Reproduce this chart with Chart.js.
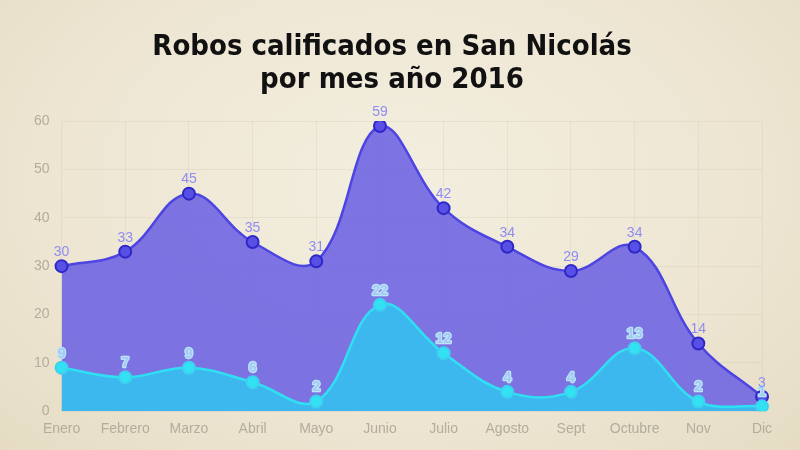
<!DOCTYPE html>
<html><head><meta charset="utf-8">
<script src="https://cdn.jsdelivr.net/npm/chart.js@4.4.0/dist/chart.umd.min.js"></script>
<style>
html,body{margin:0;padding:0;}
body{width:800px;height:450px;background:radial-gradient(ellipse at 50% 40%, #f3eedf 0%, #eee6d3 60%, #e6dcc4 100%);}
#wrap{width:800px;height:450px;position:relative;}
</style></head>
<body><div id="wrap"><canvas id="c" width="800" height="450"></canvas></div>
<script>
const categories = ["Enero","Febrero","Marzo","Abril","Mayo","Junio","Julio","Agosto","Sept","Octubre","Nov","Dic"];
const seriesTotal = [30,33,45,35,31,59,42,34,29,34,14,3];
const seriesSub = [9,7,9,6,2,22,12,4,4,13,2,1];
const yTicks = [0,10,20,30,40,50,60];
const titleLines = ["Robos calificados en San Nicolás","por mes año 2016"];

const labelPlugin = {
  id:'vlabels',
  afterDatasetsDraw(chart){
    const ctx = chart.ctx;
    chart.data.datasets.forEach((ds,i)=>{
      const meta = chart.getDatasetMeta(i);
      ctx.save();
      ctx.font = ds.labelFont;
      ctx.textAlign='center'; ctx.textBaseline='bottom';
      ctx.lineJoin='round';
      meta.data.forEach((pt,j)=>{
        const t = String(ds.data[j]);
        if(ds.labelStroke){
          ctx.lineWidth=2.5; ctx.strokeStyle=ds.labelStroke; ctx.strokeText(t,pt.x,pt.y-7);
        }
        ctx.fillStyle=ds.labelColor;
        ctx.fillText(t,pt.x,pt.y-7);
      });
      ctx.restore();
    });
  }
};

new Chart(document.getElementById('c'),{
  type:'line',
  data:{labels:categories,datasets:[
    {data:seriesSub,fill:'origin',tension:0.4,backgroundColor:'rgba(56,190,240,0.92)',borderColor:'#2fe0f2',borderWidth:2.5,
     pointRadius:6,pointBackgroundColor:'#32e2f2',pointBorderColor:'#3fd0f0',pointBorderWidth:2,labelColor:'#a8c8f4',labelStroke:'#b8e6f6',
     labelFont:'bold 14px "Liberation Sans", Arial, sans-serif',order:1},
    {data:seriesTotal,fill:'origin',tension:0.4,backgroundColor:'rgba(108,98,226,0.88)',borderColor:'#4d45e2',borderWidth:2.5,
     pointRadius:6,pointBackgroundColor:'#5850e4',pointBorderColor:'#2f28c8',pointBorderWidth:2,labelColor:'#8f8cf0',
     labelFont:'14px "Liberation Sans", Arial, sans-serif',order:2}
  ]},
  options:{
    responsive:false,animation:false,
    layout:{padding:{left:22,right:38,top:0,bottom:2}},
    plugins:{
      legend:{display:false},tooltip:{enabled:false},
      title:{display:true,text:titleLines,color:'#111',font:{family:'"DejaVu Sans Condensed","DejaVu Sans",sans-serif',size:29,weight:'bold',lineHeight:1.14},padding:{top:31,bottom:24}}
    },
    scales:{
      x:{offset:false,grid:{color:'rgba(200,190,170,0.25)',drawTicks:false},border:{display:false},
         ticks:{color:'#b4ac9c',font:{family:'"Liberation Sans", Arial, sans-serif',size:14},padding:10}},
      y:{min:0,max:60,afterBuildTicks:(ax)=>{ax.ticks=yTicks.map(v=>({value:v}));},
         grid:{color:'rgba(200,190,170,0.25)',drawTicks:false},border:{display:false},
         ticks:{color:'#b4ac9c',font:{family:'"Liberation Sans", Arial, sans-serif',size:14},padding:12}}
    }
  },
  plugins:[labelPlugin]
});
</script></body></html>
